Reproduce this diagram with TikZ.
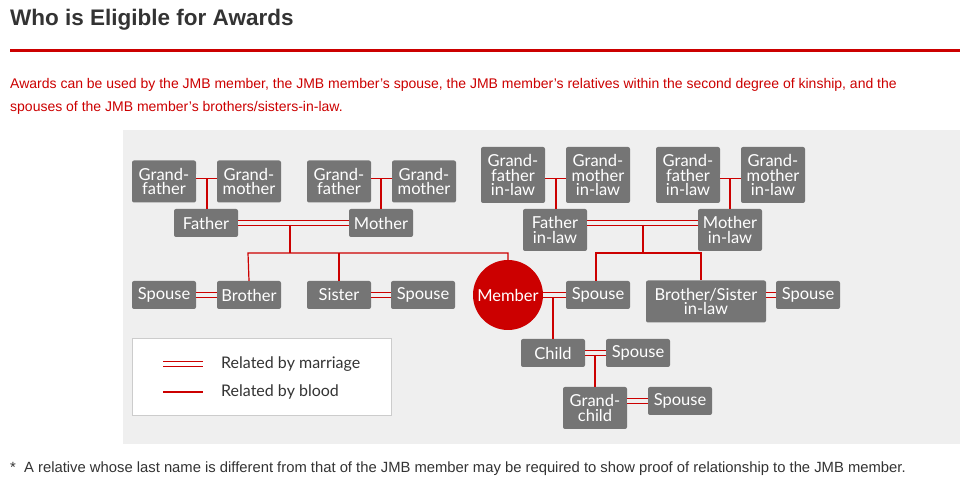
\documentclass[tikz,border=0pt]{standalone}
\usepackage{fontspec}
\setmainfont{Liberation Sans}
\newfontfamily\boxfont{Lato}
\definecolor{jred}{HTML}{CC0000}
\definecolor{bgc}{HTML}{EFEFEF}
\definecolor{boxc}{HTML}{757575}
\definecolor{ttl}{HTML}{333333}
\begin{document}
\begin{tikzpicture}[x=1pt,y=-1pt,
  box/.style={fill=boxc,rounded corners=2pt,text=white,font=\boxfont\fontsize{16.5}{14.5}\selectfont,align=center,inner sep=0pt,minimum width=64pt,minimum height=28pt},
  tall/.style={box,minimum height=42pt},
  tall3/.style={box,minimum height=56pt},
  marr/.style={draw=jred,double=bgc,double distance=4pt,line width=0.9pt},
  blood/.style={color=jred,line width=1.2pt}]
\useasboundingbox (0,0) rectangle (970,486);
\fill[white] (0,0) rectangle (970,486);
\node[anchor=west,font=\bfseries\fontsize{22.5}{24}\selectfont,text=ttl,inner sep=0pt] (title) at (10,20) {Who is Eligible for Awards};
\fill[jred] (10,49) rectangle (960,52);
\node[anchor=north west,align=left,inner sep=0pt,text=jred,font=\fontsize{14}{23}\selectfont] (intro) at (10,78) {Awards can be used by the JMB member, the JMB member's spouse, the JMB member's relatives within the second degree of kinship, and the\\spouses of the JMB member's brothers/sisters-in-law.};
\fill[bgc] (123,130) rectangle (960,444);
\node[anchor=west,inner sep=0pt,text=ttl,font=\fontsize{14.8}{15}\selectfont] (foot) at (10,469) {*\ \ A relative whose last name is different from that of the JMB member may be required to show proof of relationship to the JMB member.};
% legend
\node[draw=black!20,fill=white,line width=0.8pt,minimum width=259pt,minimum height=77pt,inner sep=0pt] (legend) at (261.5,376.5) {};
\coordinate (lm1) at (163,364); \coordinate (lm2) at (203,364);
\coordinate (lb1) at (163,392); \coordinate (lb2) at (203,392);
\draw[marr,double=white] (lm1) -- (lm2);
\draw[blood] (lb1) -- (lb2);
\node[anchor=west,inner sep=0pt,font=\boxfont\fontsize{16}{15}\selectfont,text=ttl] (lt1) at (221,364) {Related by marriage};
\node[anchor=west,inner sep=0pt,font=\boxfont\fontsize{16}{15}\selectfont,text=ttl] (lt2) at (221,392) {Related by blood};
% left side nodes
\node[tall] (gf1) at (164,181.5) {Grand-\\father};
\node[tall] (gm1) at (249,181.5) {Grand-\\mother};
\node[tall] (gf2) at (339,181.5) {Grand-\\father};
\node[tall] (gm2) at (424,181.5) {Grand-\\mother};
\node[box] (fa) at (206,223) {Father};
\node[box] (mo) at (381,223) {Mother};
\node[box] (sp1) at (164,295) {Spouse};
\node[box] (br) at (249,295) {Brother};
\node[box] (si) at (339,295) {Sister};
\node[box] (sp2) at (423,295) {Spouse};
\node[circle,fill=jred,minimum size=70pt,inner sep=0pt,text=white,font=\boxfont\fontsize{16.5}{15}\selectfont] (me) at (508,295) {Member};
% right side
\node[tall3] (gfl1) at (513,175) {Grand-\\father\\in-law};
\node[tall3] (gml1) at (598,175) {Grand-\\mother\\in-law};
\node[tall3] (gfl2) at (688,175) {Grand-\\father\\in-law};
\node[tall3] (gml2) at (773,175) {Grand-\\mother\\in-law};
\node[tall] (fal) at (555,230) {Father\\in-law};
\node[tall] (mol) at (730,230) {Mother\\in-law};
\node[box] (sp) at (598,295) {Spouse};
\node[tall,minimum width=120pt] (bsl) at (706,301.5) {Brother/Sister\\in-law};
\node[box] (sp3) at (808,295) {Spouse};
\node[box] (ch) at (553,353) {Child};
\node[box] (sp4) at (638,353) {Spouse};
\node[tall] (gc) at (595,408) {Grand-\\child};
\node[box] (sp5) at (680,401) {Spouse};
% marriage lines
\draw[marr] (gf1.east|-0,176.5) -- (gm1.west|-0,176.5);
\draw[marr] (gf2.east|-0,176.5) -- (gm2.west|-0,176.5);
\draw[marr] (fa.east) -- (mo.west);
\draw[marr] (sp1.east) -- (br.west);
\draw[marr] (si.east) -- (sp2.west);
\draw[marr] (gfl1.east|-0,176.5) -- (gml1.west|-0,176.5);
\draw[marr] (gfl2.east|-0,176.5) -- (gml2.west|-0,176.5);
\draw[marr] (fal.east|-0,223) -- (mol.west|-0,223);
\draw[marr] (me.east) -- (sp.west);
\draw[marr] (bsl.east|-0,295) -- (sp3.west);
\draw[marr] (ch.east) -- (sp4.west);
\draw[marr] (gc.east|-0,401) -- (sp5.west);
% blood lines
\draw[blood] (207,179) -- (207,209);
\draw[blood] (381,179) -- (mo.north);
\draw[blood] (290,225) -- (290,253);
\draw[blood] (br.north) -- (248,253) -| (me.north);
\draw[blood] (339,253) -- (si.north);
\draw[blood] (556,179) -- (fal.north-|556,0);
\draw[blood] (730,179) -- (mol.north);
\draw[blood] (643,225) -- (643,253);
\draw[blood] (sp.north-|596,0) -- (596,253) -| (bsl.north-|701,0);
\draw[blood] (553,297) -- (ch.north);
\draw[blood] (595,355) -- (gc.north);
\end{tikzpicture}
\end{document}
